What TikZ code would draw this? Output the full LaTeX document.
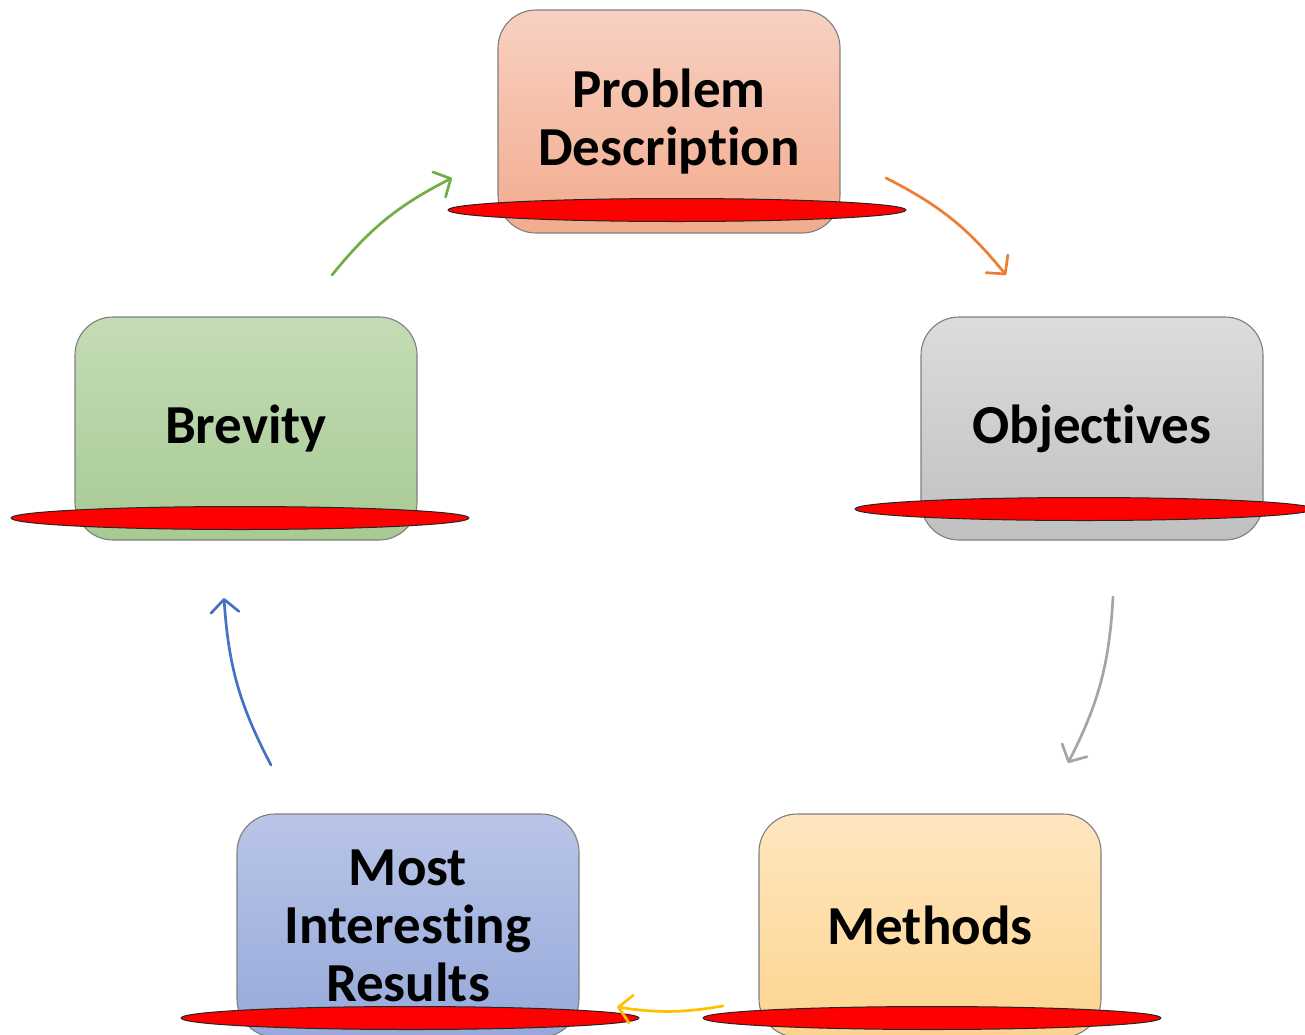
\documentclass[tikz,border=0pt]{standalone}
\usepackage{fontspec}
\setmainfont{Carlito}[RawFeature={-liga;-clig;-calt;-dlig}]
\usetikzlibrary{arrows.meta,shapes.geometric}

\definecolor{pdTop}{HTML}{F8D1C2}\definecolor{pdBot}{HTML}{F2AB8D}
\definecolor{obTop}{HTML}{DCDCDC}\definecolor{obBot}{HTML}{C0C0C0}
\definecolor{brTop}{HTML}{C4DCB6}\definecolor{brBot}{HTML}{A7CA93}
\definecolor{meTop}{HTML}{FFE6C0}\definecolor{meBot}{HTML}{FDD48E}
\definecolor{reTop}{HTML}{B9C5E8}\definecolor{reBot}{HTML}{96A9DA}
\definecolor{frame}{HTML}{7F7F7F}
\definecolor{accGreen}{HTML}{70AD47}
\definecolor{accOrange}{HTML}{ED7D31}
\definecolor{accGray}{HTML}{A5A5A5}
\definecolor{accGold}{HTML}{FFC000}
\definecolor{accBlue}{HTML}{4472C4}

\tikzset{
  stage/.style={draw=frame, line width=1.1pt, rounded corners=38pt,
    minimum width=342pt, minimum height=223pt, inner sep=0pt,
    align=center, font=\fontsize{55}{58}\selectfont\bfseries},
  rim/.style={ellipse, draw=black!85, line width=1pt, fill=red,
    minimum width=458pt, minimum height=23pt, inner sep=0pt},
  flow/.style={line width=2.7pt, line cap=round,
    -{Straight Barb[length=13pt,width=28pt,line cap=round,line join=round]}},
}

\begin{document}
\begin{tikzpicture}[x=1pt,y=1pt]
\path[use as bounding box] (0,0) rectangle (1305,-1034);
\clip (0,0) rectangle (1305,-1034);

% stage boxes
\node[stage, top color=pdTop, bottom color=pdBot] (prob) at (669,-121.5) {Problem\\Descrip\kern0pt tion};
\node[stage, top color=obTop, bottom color=obBot] (obj)  at (1092,-428.5) {Objec\kern0pt tives};
\node[stage, top color=brTop, bottom color=brBot] (brev) at (246,-428.5) {Brevity};
\node[stage, top color=meTop, bottom color=meBot] (meth) at (930,-925.5) {Methods};
\node[stage, top color=reTop, bottom color=reBot] (res)  at (408,-925.5) {Most\\Interes\kern0pt ting\\Results};

% red rims across the lower part of each box
\node[rim] (probrim) at (677,-210) {};
\node[rim] (objrim)  at (1084,-509) {};
\node[rim] (brevrim) at (240,-518) {};
\node[rim] (methrim) at (932,-1018) {};
\node[rim] (resrim)  at (410,-1018) {};

% arrow end points
\coordinate (g1) at (332,-275);  \coordinate (g2) at (452,-178);
\coordinate (o1) at (886,-178);  \coordinate (o2) at (1006,-275);
\coordinate (s1) at (1113,-597); \coordinate (s2) at (1068,-763);
\coordinate (y1) at (723,-1006); \coordinate (y2) at (617,-1007);
\coordinate (b1) at (271,-765);  \coordinate (b2) at (224,-598);

% cycle arrows
\draw[flow, accGreen]  (g1) to[bend left=12] (g2);
\draw[flow, accOrange] (o1) to[bend left=12] (o2);
\draw[flow, accGray]   (s1) to[bend left=12] (s2);
\draw[flow, accGold]   (y1) to[bend left=9]  (y2);
\draw[flow, accBlue]   (b1) to[bend left=12] (b2);
\end{tikzpicture}
\end{document}
